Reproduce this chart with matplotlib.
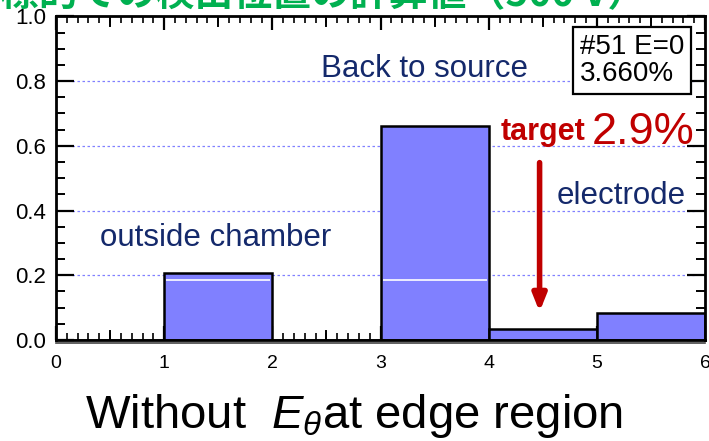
import numpy as np
import matplotlib
matplotlib.use("Agg")
import matplotlib.pyplot as plt
import matplotlib.transforms as mtransforms
from matplotlib.ticker import MultipleLocator, FixedLocator

plt.rcParams['font.family'] = ['Liberation Sans', 'Noto Sans CJK JP', 'DejaVu Sans']
plt.rcParams['mathtext.fontset'] = 'custom'
plt.rcParams['mathtext.rm'] = 'Liberation Sans'
plt.rcParams['mathtext.it'] = 'Liberation Sans:italic'

# histogram bins (region index) and fractions
bin_left = [0, 1, 2, 3, 4, 5]
fraction = [0.0, 0.207, 0.0, 0.662, 0.034, 0.084]
inner_level = [0.0, 0.186, 0.0, 0.186, 0.0, 0.0]
grid_levels = [0.2, 0.4, 0.6, 0.8]
x_ticks = [0, 1, 2, 3, 4, 5, 6]
y_ticks = [0.0, 0.2, 0.4, 0.6, 0.8, 1.0]

region_labels = [("Back to source", 3.41, 0.836),
                 ("outside chamber", 1.48, 0.316),
                 ("electrode", 5.22, 0.446)]
run_id = "#51 E=0"
total_pct = 3.660
target_pct = 2.9
target_x = 4.47

navy = "#14296b"
red = "#c00000"
bar_col = "#8080ff"

fig = plt.figure(figsize=(7.09, 4.41), dpi=100)
ax = fig.add_axes([0.0790, 0.229, 0.9155, 0.734])

# heading, mostly above the top edge
fig.text(0.0, 1 - 6 / 441, "標的での検出位置の計算値（500 V）", color="#00b050",
         fontsize=28, fontweight="bold", family=["Noto Sans CJK JP"],
         ha="left", va="baseline")

ax.hlines(grid_levels, 0.15, 5.9, colors=bar_col, linestyles=(0, (2, 2)),
          linewidth=0.9, zorder=1)

ax.bar(bin_left, fraction, width=1.0, align="edge", color=bar_col,
       edgecolor="black", linewidth=1.8, zorder=2)
for xl, lv, fr in zip(bin_left, inner_level, fraction):
    if 0 < lv < fr:
        ax.hlines(lv, xl + 0.02, xl + 0.98, colors="white", linewidth=1.2, zorder=3)

ax.set_xlim(0, 6)
ax.set_ylim(0, 1.0)

for txt, tx, ty in region_labels:
    ax.text(tx, ty, txt, color=navy, fontsize=22.5, ha="center", va="center", zorder=5)

ax.text(4.89, 0.619, "target", color=red, fontsize=22, fontweight="bold",
        ha="right", va="baseline", zorder=5)
ax.text(4.95, 0.604, f"{target_pct}%", color=red, fontsize=32.5,
        ha="left", va="baseline", zorder=5)
ax.annotate("", xy=(target_x, 0.087), xytext=(target_x, 0.548),
            arrowprops=dict(arrowstyle="-|>,head_width=0.4,head_length=1.0",
                            color=red, lw=4.0, shrinkA=0, shrinkB=0), zorder=5)

ax.text(4.84, 0.945, f"{run_id}\n{total_pct:.3f}%", fontsize=20, color="black",
        ha="left", va="top", linespacing=1.05, zorder=6,
        bbox=dict(boxstyle="square,pad=0.25", fc="white", ec="black", lw=1.6))

# axes frame and ticks
for sp in ax.spines.values():
    sp.set_linewidth(2.0)

ax.xaxis.set_major_locator(FixedLocator(x_ticks))
ax.xaxis.set_minor_locator(MultipleLocator(0.1))
ax.yaxis.set_major_locator(FixedLocator(y_ticks))
ax.yaxis.set_minor_locator(MultipleLocator(0.05))
ax.set_yticklabels([f"{v:.1f}" for v in y_ticks])

ax.tick_params(axis="x", which="major", direction="in", length=10, width=1.6,
               labelsize=14, pad=11, top=True)
ax.tick_params(axis="x", which="minor", direction="in", length=5, width=1.2, top=True)
ax.tick_params(axis="y", which="major", direction="in", length=13, width=1.6,
               labelsize=16, pad=7, right=True)
ax.tick_params(axis="y", which="minor", direction="in", length=6.5, width=1.4, right=True)

# half-unit ticks, a bit longer, on bottom and top edges
for xm in np.arange(0.5, 6, 1.0):
    ax.plot([xm, xm], [0, 0.028], color="black", lw=1.4, zorder=1.5)
    ax.plot([xm, xm], [1.0, 0.97], color="black", lw=1.4, zorder=1.5)

# second thin rule just under the bottom edge
shift = mtransforms.offset_copy(ax.transData, fig=fig, x=0, y=-3, units="dots")
ax.plot([0, 6], [0, 0], color="#444444", lw=1.2, transform=shift, clip_on=False)

fig.text(0.50, 1 - 428 / 441, r"Without  $E_{\theta}$at edge region", fontsize=34,
         ha="center", va="baseline", color="black")

fig.savefig("out.png", dpi=100)
